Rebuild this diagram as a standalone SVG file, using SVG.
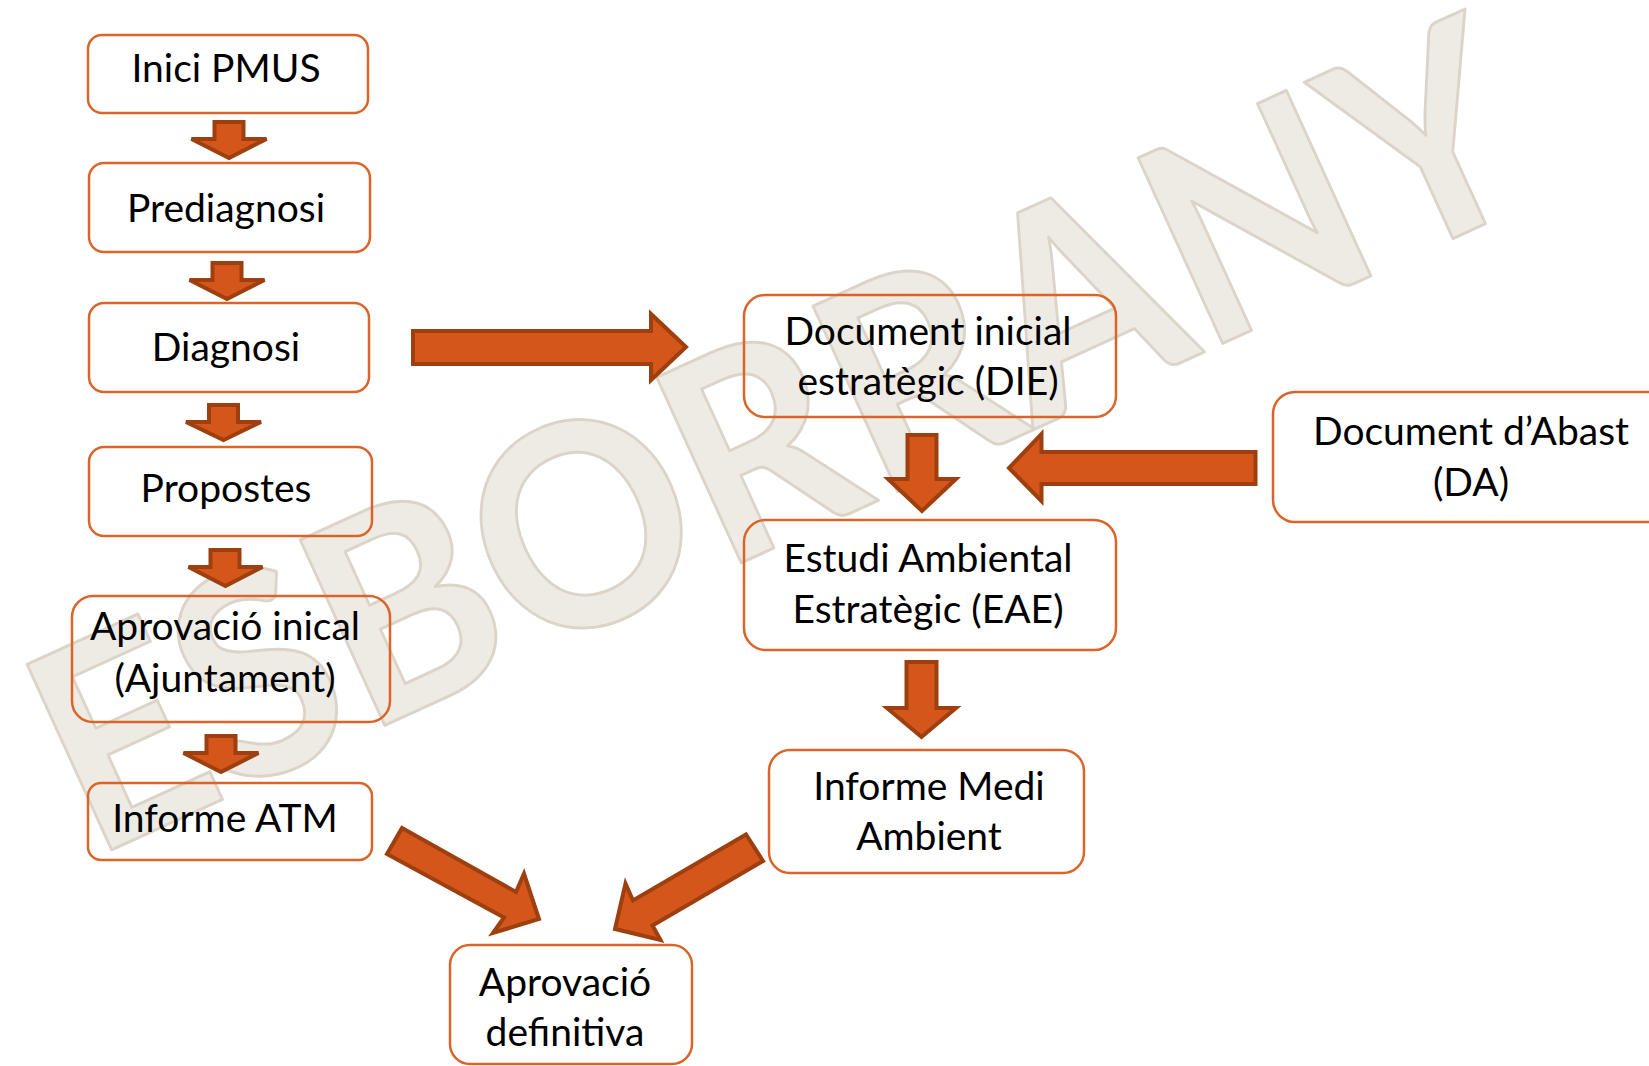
<svg xmlns="http://www.w3.org/2000/svg" width="1649" height="1066" viewBox="0 0 1649 1066">
<style>
.box{fill:none;stroke:#D9652B;stroke-width:2.5}
.lbl{font-family:Lato,"Liberation Sans",sans-serif;font-size:39px;fill:#000;text-anchor:middle}
.arr{fill:#D4561A;stroke:#9E3F0F;stroke-width:4;stroke-linejoin:miter}
.wm{font-family:Lato,"Liberation Sans",sans-serif;font-weight:bold;font-size:282px;fill:#EEEBE4;stroke:#DCD4C8;stroke-width:3;stroke-linejoin:round;text-anchor:middle}
</style>
<rect width="1649" height="1066" fill="#fff"/>
<g id="watermark">
<text class="wm" x="820" y="527" textLength="1600" lengthAdjust="spacingAndGlyphs" transform="rotate(-24.5 820 527)">ESBORRANY</text>
</g>
<g id="connectors">
<polygon class="arr" points="214.5,122 243.5,122 243.5,139 266.5,139 229,158 191.5,139 214.5,139"/>
<polygon class="arr" points="212.5,263 241.5,263 241.5,280 264.5,280 227,299 189.5,280 212.5,280"/>
<polygon class="arr" points="209,405 238,405 238,422 261,422 223.5,440 186,422 209,422"/>
<polygon class="arr" points="210.5,550 239.5,550 239.5,567 262.5,567 225.5,586 188.5,567 210.5,567"/>
<polygon class="arr" points="206.5,736 235.5,736 235.5,753 258.5,753 221,772 183.5,753 206.5,753"/>
<polygon class="arr" points="413,331 651,331 651,314 686,347 651,380 651,364 413,364"/>
<polygon class="arr" points="907.5,435 936.5,435 936.5,479 956,479 922,511 888,479 907.5,479"/>
<polygon class="arr" points="906.5,662 936.5,662 936.5,708 956,708 921.5,737 887,708 906.5,708"/>
<polygon class="arr" points="1255.5,452 1041.5,452 1041.5,434 1009,468 1041.5,501 1041.5,484 1255.5,484"/>
<polygon class="arr" points="402,828 516,892 524,873.5 539,919 493,933 504,917.5 387,854"/>
<polygon class="arr" points="746,834.5 633,900.5 625.5,883.5 615,929 660.5,940 652.5,925.5 763,861"/>
</g>
<g id="n1"><rect class="box" x="88" y="35" width="280" height="78" rx="14"/><text class="lbl" x="226" y="82">Inici PMUS</text></g>
<g id="n2"><rect class="box" x="89" y="163" width="281" height="89" rx="15"/><text class="lbl" x="226" y="222">Prediagnosi</text></g>
<g id="n3"><rect class="box" x="89" y="303" width="280" height="89" rx="15"/><text class="lbl" x="226" y="361">Diagnosi</text></g>
<g id="n4"><rect class="box" x="89" y="447" width="283" height="89" rx="15"/><text class="lbl" x="226" y="502">Propostes</text></g>
<g id="n5"><rect class="box" x="72" y="596" width="318" height="126" rx="21"/><text class="lbl" x="225" y="640">Aprovació inical</text><text class="lbl" x="225" y="692">(Ajuntament)</text></g>
<g id="n6"><rect class="box" x="88" y="783" width="284" height="77" rx="13"/><text class="lbl" x="225" y="832">Informe ATM</text></g>
<g id="n7"><rect class="box" x="744" y="295" width="372" height="122" rx="21"/><text class="lbl" x="928" y="345">Document inicial</text><text class="lbl" x="928" y="395">estratègic (DIE)</text></g>
<g id="n8"><rect class="box" x="744" y="520" width="372" height="130" rx="22"/><text class="lbl" x="928" y="572">Estudi Ambiental</text><text class="lbl" x="928" y="623">Estratègic (EAE)</text></g>
<g id="n9"><rect class="box" x="1273" y="392" width="400" height="130" rx="22"/><text class="lbl" x="1471" y="445">Document d’Abast</text><text class="lbl" x="1471" y="496">(DA)</text></g>
<g id="n10"><rect class="box" x="769" y="750" width="315" height="123" rx="21"/><text class="lbl" x="929" y="800">Informe Medi</text><text class="lbl" x="929" y="850">Ambient</text></g>
<g id="n11"><rect class="box" x="450" y="945" width="242" height="119" rx="20"/><text class="lbl" x="565" y="996">Aprovació</text><text class="lbl" x="565" y="1046">definitiva</text></g>
</svg>
